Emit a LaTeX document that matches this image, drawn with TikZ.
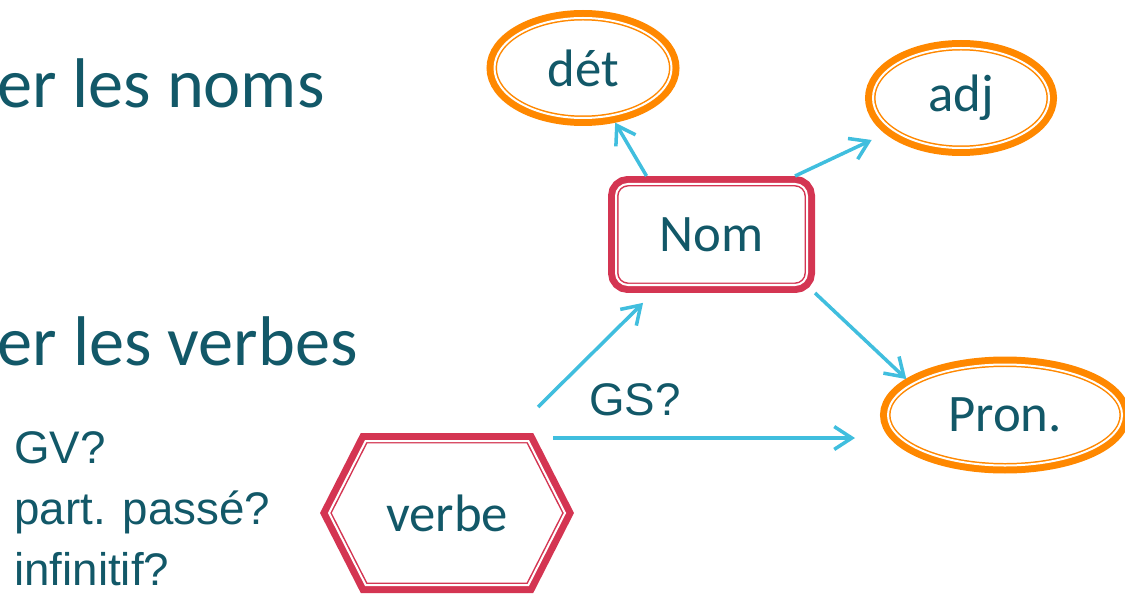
\documentclass[tikz,border=0pt]{standalone}
\usepackage{fontspec}
\setmainfont{Carlito}
\newfontfamily\arialfont{Liberation Sans}
\usetikzlibrary{shapes.geometric,shapes.symbols,arrows.meta,calc}
\definecolor{inkteal}{RGB}{18,88,104}
\definecolor{boxred}{RGB}{212,53,82}
\definecolor{ovalorange}{RGB}{255,136,0}
\definecolor{linkcyan}{RGB}{64,190,222}

\begin{document}
\begin{tikzpicture}[
    bigtext/.style={font=\fontsize{40}{48}\selectfont, text=inkteal, inner sep=0pt},
    qtext/.style={font=\arialfont\fontsize{26}{32}\selectfont, text=inkteal, inner sep=0pt},
    boxtext/.style={font=\fontsize{30}{36}\selectfont, text=inkteal, inner sep=0pt, outer sep=0.16cm,
      fill=white, line width=0.85pt, double=white, double distance=1.14pt},
    oval/.style={boxtext, ellipse, draw=ovalorange, preaction={draw=ovalorange, line width=9.1pt}},
    wordbox/.style={boxtext, rectangle, rounded corners=0.24cm, draw=boxred, preaction={draw=boxred, line width=9.1pt}},
    verbbox/.style={boxtext, signal, signal to=west and east, signal pointer angle=126,
      draw=boxred, preaction={draw=boxred, line width=9.1pt}},
    link/.style={draw=linkcyan, line width=2pt, -{Straight Barb[length=10pt, width=13pt]}}
  ]
    \useasboundingbox (0,0) rectangle (22.5,11.86);
    \clip (0,0) rectangle (22.5,11.86);

    % left side
    \node[bigtext, anchor=base east] (noms) at (6.5,9.7) {er les noms};
    \node[bigtext, anchor=base east] (verbes) at (7.16,4.56) {er les verbes};
    \foreach \q [count=\i] in {GV?, part. passé?, infinitif?}{
      \node[qtext, anchor=base west] (q\i) at (0.28,{2.6-1.22*(\i-1)}) {\q};
    }

    % nodes
    \node[oval, minimum width=3.54cm, minimum height=2cm] (det) at (11.66,10.5) {dét};
    \node[oval, minimum width=3.52cm, minimum height=2cm] (adj) at (19.22,9.9) {adj};
    \node[wordbox, minimum width=3.82cm, minimum height=2.02cm] (Nom) at (14.23,7.17) {Nom};
    \node[oval, minimum width=4.68cm, minimum height=2.02cm] (Pron) at (20.1,3.56) {Pron.};
    \node[verbbox, minimum width=4.72cm, minimum height=2.88cm] (verbe) at (8.94,1.6) {verbe};

    \coordinate (vup) at ([shift={(1.82,0.52)}]verbe.north);
    \coordinate (vright) at ([shift={(2.12,-0.1)}]verbe.north);

    % arrows
    \draw[link] (Nom.138) -- (det);
    \draw[link, shorten >=0.3cm] (Nom.35) -- (adj);
    \draw[link] (Nom.south east) -- (Pron.160);
    \draw[link, shorten >=0.28cm] (vup) -- (Nom.225);
    \draw[link, shorten >=0.5cm] (vright) -- (vright -| Pron.west)
      node[qtext, pos=0.25, above=0.4cm] (gs) {GS?};
\end{tikzpicture}
\end{document}
